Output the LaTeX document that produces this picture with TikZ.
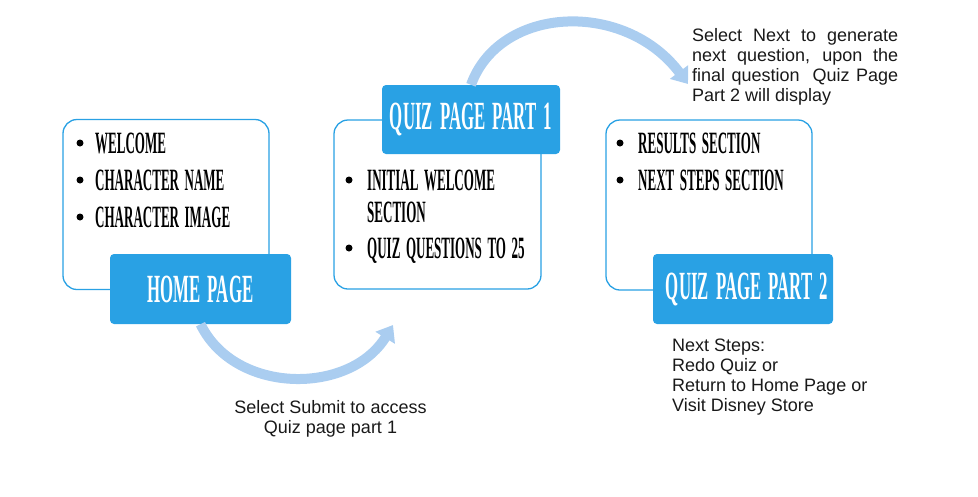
\documentclass[tikz,border=0pt]{standalone}
\usepackage{fontspec}
\setmainfont{Liberation Sans}
\newfontfamily\capsfont[FakeStretch=0.42,WordSpace=1.7]{Liberation Serif}
\usetikzlibrary{arrows.meta}
\definecolor{boxblue}{RGB}{41,161,228}
\definecolor{arrowblue}{RGB}{170,205,240}
\definecolor{txtgray}{RGB}{25,25,25}
\begin{document}
\begin{tikzpicture}[x=1pt,y=-1pt,
  listbox/.style={draw=boxblue, line width=1.3pt, fill=white, rounded corners=14pt,
    inner sep=0pt, minimum width=206pt, minimum height=170pt},
  headbox/.style={fill=boxblue, rounded corners=4pt, inner sep=0pt,
    minimum width=180pt, minimum height=70pt, text=white,
    font=\capsfont\bfseries\fontsize{40}{40}\selectfont},
  item/.style={anchor=base west, inner sep=0pt, text=black,
    font=\capsfont\bfseries\fontsize{31}{31}\selectfont},
  dot/.style={circle, fill=black, inner sep=0pt, minimum size=7pt},
  note/.style={inner sep=0pt, text=txtgray, font=\fontsize{18}{20}\selectfont},
  bigarrow/.style={draw=arrowblue, line width=10pt,
    -{Triangle[width=22pt,length=15pt]}}]
\useasboundingbox (0,0) rectangle (978,496);

% white list boxes
\node[listbox] (box1) at (166,204.5) {};
\node[listbox, minimum width=207pt, minimum height=169pt] (box2) at (437.5,204.5) {};
\node[listbox] (box3) at (709,205) {};

% list items
\node[dot] (d1a) at (80,143) {};
\node[dot] (d1b) at (80,180) {};
\node[dot] (d1c) at (80,217) {};
\node[item] (t1a) at (95,153) {WELCOME};
\node[item] (t1b) at (95,190) {CHARACTER NAME};
\node[item] (t1c) at (95,227) {CHARACTER IMAGE};

\node[dot] (d2a) at (349,180) {};
\node[dot] (d2b) at (349,248) {};
\node[item] (t2a) at (367,190) {INITIAL WELCOME};
\node[item] (t2b) at (367,222) {SECTION};
\node[item] (t2c) at (367,258) {QUIZ QUESTIONS TO 25};

\node[dot] (d3a) at (620,143) {};
\node[dot] (d3b) at (620,180) {};
\node[item] (t3a) at (638,153) {RESULTS SECTION};
\node[item] (t3b) at (638,190) {NEXT STEPS SECTION};

% headers
\node[headbox, minimum width=181pt] (home) at (200.5,289) {HOME PAGE};
\node[headbox, minimum width=178pt, minimum height=69pt] (qp1) at (471,119.5) {QUIZ PAGE PART 1};
\node[headbox] (qp2) at (743,289) {\hspace*{8pt}QUIZ PAGE PART 2};

% arrows
\coordinate (tipA) at (393,325);
\coordinate (tipB) at (688,84);
\draw[bigarrow] (home.south) .. controls (235,395) and (350,395) .. (tipA);
\draw[bigarrow] (qp1.north) .. controls (500,5) and (625,0) .. (tipB);

% notes
\node[note, align=center, anchor=base] (n1) at (330.5,433)
  {Select Submit to access\\Quiz page part 1};
\node[note, text width=206pt, align=justify, anchor=north west] (n2) at (692,28)
  {Select Next to generate\linebreak next question, upon the\linebreak final question\ \ Quiz Page\linebreak Part 2 will display};
\node[note, align=left, anchor=north west] (n3) at (672,339)
  {Next Steps:\\Redo Quiz or\\Return to Home Page or\\Visit Disney Store};
\end{tikzpicture}
\end{document}
